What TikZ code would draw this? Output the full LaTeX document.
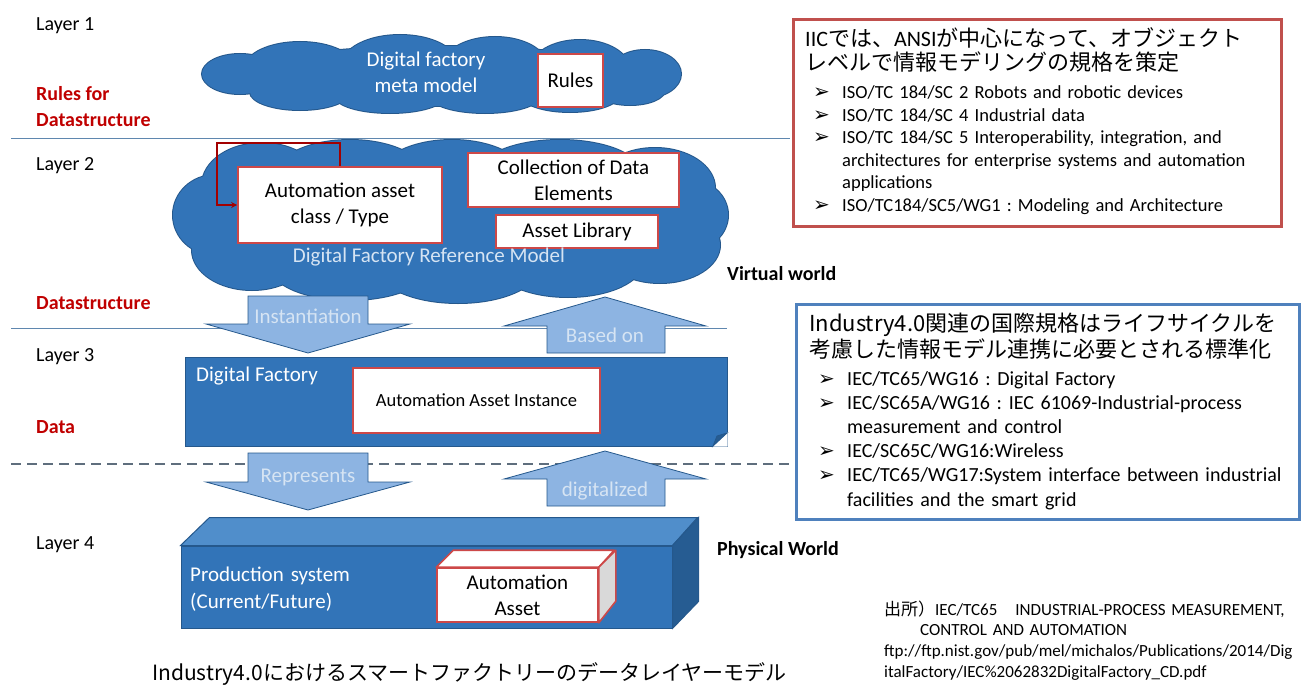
\documentclass[tikz,border=0pt]{standalone}
\usepackage{fontspec}
\setmainfont{Carlito}
\newfontfamily\jpfont{Noto Sans CJK JP}
\newfontfamily\symfont{DejaVu Sans}
\usepackage{tikz}
\usetikzlibrary{arrows.meta,positioning,calc}

\definecolor{dfblue}{RGB}{50,116,184}
\definecolor{dfedge}{RGB}{37,88,140}
\definecolor{dftop}{RGB}{80,142,203}
\definecolor{dfside}{RGB}{38,92,146}
\definecolor{dflight}{RGB}{141,180,226}
\definecolor{dfpale}{RGB}{214,228,243}
\definecolor{boxred}{RGB}{205,72,72}
\definecolor{labred}{RGB}{192,0,0}
\definecolor{framered}{RGB}{192,80,77}
\definecolor{frameblue}{RGB}{79,129,189}
\definecolor{sepblue}{RGB}{95,135,175}
\definecolor{dashgray}{RGB}{95,110,125}

\newcommand{\fsz}[2]{\fontsize{#1}{#2}\selectfont}
\newcommand{\bitem}[1]{\hangindent=29pt\hangafter=1\noindent\makebox[29pt][l]{\symfont\fsz{20}{20}➢}#1\par}
% puffs of the two clouds: x/y/x radius/y radius
\newcommand{\metapuffs}{240/74/38/20, 300/68/55/26, 400/65/58/30, 495/66/52/29, 580/70/50/30, 645/74/36/24,
  300/92/50/18, 390/96/55/17, 485/96/55/17, 570/94/50/18, 630/90/35/15, 440/76/200/30}
\newcommand{\refpuffs}{215/215/42/40, 262/185/60/42, 350/176/75/36, 452/179/75/39, 560/172/80/32, 655/188/60/40,
  690/215/38/35, 252/250/60/40, 350/266/80/34, 458/268/80/35, 568/262/75/35, 660/245/60/38, 450/220/230/55}

\begin{document}
\begin{tikzpicture}[x=1pt, y=-1pt,
    lbl/.style={anchor=base west, inner sep=0, font=\fsz{20}{24}},
    redlbl/.style={lbl, text=labred, font=\bfseries\fsz{20}{25}},
    world/.style={lbl, font=\bfseries\fsz{20}{24}},
    puffline/.style={draw=dfedge, line width=2pt},
    pufffill/.style={fill=dfblue},
    dfbox/.style={rectangle, draw=dfedge, fill=dfblue, line width=1pt, inner sep=0},
    redbox/.style={rectangle, draw=boxred, fill=white, line width=1.6pt, inner sep=0, font=\fsz{21}{26}, align=center},
    bluetext/.style={inner sep=0, text=white, font=\fsz{21}{26}},
    bigarrow/.style={fill=dflight, draw=dfedge, line width=0.8pt, line join=miter},
    arrowtext/.style={anchor=base, inner sep=0, text=dfpale, font=\fsz{21}{24}},
    sepline/.style={draw=sepblue, line width=1pt},
    frame/.style={rectangle, fill=white, line width=2.6pt, inner sep=0, anchor=north west},
    headtext/.style={anchor=base west, inner sep=0, align=left, font=\jpfont\fsz{22}{24}},
    listtext/.style={anchor=base west, inner sep=0, align=left, execute at begin node=\frenchspacing},
]
\useasboundingbox (0,0) rectangle (1301,685);

% Separators between the layers
\draw[sepline] (11,138) -- (790,138);
\draw[sepline] (11,328) -- (727,328);
\draw[draw=dashgray, line width=2pt, dash pattern=on 10pt off 6pt] (11,464) -- (793,464);

% Layer labels
\node[lbl] (lay1) at (36,31) {Layer 1};
\node[redlbl] (rulesfor) at (36,100.5) {Rules for};
\node[redlbl] (dstruct1) at (36,126.5) {Datastructure};
\node[lbl] (lay2) at (36,170) {Layer 2};
\node[redlbl] (dstruct2) at (36,309) {Datastructure};
\node[lbl] (lay3) at (36,361) {Layer 3};
\node[redlbl] (data) at (36,433) {Data};
\node[lbl] (lay4) at (36,549) {Layer 4};

% Layer 1: meta model cloud
\foreach \cx/\cy/\rx/\ry in \metapuffs
  \draw[puffline] (\cx,\cy) ellipse [x radius=\rx, y radius=\ry];
\foreach \cx/\cy/\rx/\ry in \metapuffs
  \fill[pufffill] (\cx,\cy) ellipse [x radius=\rx, y radius=\ry];
\node[bluetext, align=center] (metatext) at (426,72.5) {Digital factory\\meta model};
\node[redbox, minimum width=65, minimum height=53] (rules) at (570.5,80.5) {Rules};

% Layer 2: reference model cloud
\foreach \cx/\cy/\rx/\ry in \refpuffs
  \draw[puffline] (\cx,\cy) ellipse [x radius=\rx, y radius=\ry];
\foreach \cx/\cy/\rx/\ry in \refpuffs
  \fill[pufffill] (\cx,\cy) ellipse [x radius=\rx, y radius=\ry];
\node[redbox, minimum width=204, minimum height=76] (assetclass) at (340,205) {Automation asset\\class / Type};
\coordinate (loopcorner) at (217,143);
\draw[draw=labred!85!black, line width=2pt, -{Stealth[length=6pt,width=6pt]}] (assetclass.north) |- (loopcorner) |- (assetclass.west);
\node[redbox, minimum width=211, minimum height=54] (elements) at (573.5,180) {Collection of Data\\Elements};
\node[redbox, minimum width=162, minimum height=33] (library) at (577,231.5) {Asset Library};
\node[arrowtext, anchor=center] (reftitle) at (429,257) {Digital Factory Reference Model};

% Instantiation / Based on
\filldraw[bigarrow] (248,296) -- (368,296) -- (368,324) -- (410,324) -- (308,353) -- (206,324) -- (248,324) -- cycle;
\node[arrowtext] (inst) at (308,323) {Instantiation};
\filldraw[bigarrow] (547,353) -- (665,353) -- (665,326) -- (706,326) -- (605,297) -- (504,326) -- (547,326) -- cycle;
\node[arrowtext] (based) at (605,342) {Based on};

% Layer 3: digital factory
\node[dfbox, minimum width=542, minimum height=89] (dfactory) at (456,401.5) {};
\fill[white] (727.6,432) -- (727.6,446.6) -- (713,446.6) -- cycle;
\filldraw[fill=dfside, draw=dfedge, line width=0.8pt] (713,446) -- (727,433) -- (717,436) -- cycle;
\node[lbl, text=white, font=\fsz{21}{26}] (dftitle) at (196,381) {Digital Factory};
\node[redbox, minimum width=247, minimum height=65, font=\fsz{18.5}{22}] (instance) at (476.5,400.5) {Automation Asset Instance};

% Represents / digitalized
\filldraw[bigarrow] (248,453) -- (368,453) -- (368,482) -- (410,482) -- (308,510) -- (206,482) -- (248,482) -- cycle;
\node[arrowtext] (repr) at (308,482) {Represents};
\filldraw[bigarrow] (547,506) -- (665,506) -- (665,479) -- (706,479) -- (605,451) -- (504,479) -- (547,479) -- cycle;
\node[arrowtext] (digi) at (605,496) {digitalized};

% Layer 4: production system
\node[dfbox, minimum width=491, minimum height=82] (prodsys) at (426.5,587) {};
\filldraw[fill=dftop, draw=dfedge, line width=1pt] (prodsys.north west) -- ++(29,-28) -- ++(488,0) -- (prodsys.north east) -- cycle;
\filldraw[fill=dfside, draw=dfedge, line width=1pt] (prodsys.north east) -- ++(26,-28) -- ++(0,84) -- (prodsys.south east) -- cycle;
\node[lbl, text=white, font=\fsz{21}{27}, text width=220, align=left] (prodtext) at (190,581) {Production system\\(Current/Future)};
\node[redbox, minimum width=161, minimum height=54] (asset) at (517.5,595) {Automation\\Asset};
\filldraw[fill=white, draw=boxred, line width=1.6pt, line join=round] (asset.north west) -- ++(17,-17) -- ++(161,0) -- (asset.north east) -- cycle;
\filldraw[fill=gray!30, draw=boxred, line width=1.6pt, line join=round] (asset.north east) -- ++(17,-17) -- ++(0,51) -- (asset.south east) -- cycle;

% Worlds
\node[world] (virtual) at (727,280) {Virtual world};
\node[world] (physical) at (717,555) {Physical World};

% IIC standards
\node[frame, draw=framered, minimum width=488, minimum height=207] (iicframe) at (792,18) {};
\node[headtext, text width=470] (iichead) at (805,46.5) {{\rmfamily IIC}では、{\rmfamily ANSI}が中心になって、オブジェクト\\レベルで情報モデリングの規格を策定};
\node[listtext, text width=465, font=\fsz{18.5}{22.4}] (iiclist) at (813,99) {%
\bitem{ISO/TC 184/SC 2 Robots and robotic devices}
\bitem{ISO/TC 184/SC 4 Industrial data}
\bitem{ISO/TC 184/SC 5 Interoperability, integration, and\newline architectures for enterprise systems and automation\newline applications}
\bitem{ISO/TC184/SC5/WG1 : Modeling and Architecture}};

% Industry4.0 standards
\node[frame, draw=frameblue, minimum width=503, minimum height=215] (i40frame) at (795,303) {};
\node[headtext, text width=490, font=\jpfont\fsz{22}{26}] (i40head) at (809,331) {Industry4.0関連の国際規格はライフサイクルを\\考慮した情報モデル連携に必要とされる標準化};
\node[listtext, text width=475, font=\fsz{20}{24.2}] (i40list) at (818,385) {%
\bitem{IEC/TC65/WG16 : Digital Factory}
\bitem{IEC/SC65A/WG16 : IEC 61069-Industrial-process\newline measurement and control}
\bitem{IEC/SC65C/WG16:Wireless}
\bitem{IEC/TC65/WG17:System interface between industrial\newline facilities and the smart grid}};

% Source
\node[listtext, text width=420, font=\fsz{17}{20.7}] (source) at (884,615) {%
{\jpfont 出所）}IEC/TC65\hspace{18pt}INDUSTRIAL-PROCESS MEASUREMENT,\newline
\hspace*{36pt}CONTROL AND AUTOMATION\newline
ftp://ftp.nist.gov/pub/mel/michalos/Publications/2014/Dig\newline
italFactory/IEC\%2062832DigitalFactory\_CD.pdf};

% Caption
\node[lbl, font=\jpfont\fsz{21}{24}] (caption) at (152,680) {Industry4.0におけるスマートファクトリーのデータレイヤーモデル};
\end{tikzpicture}
\end{document}
